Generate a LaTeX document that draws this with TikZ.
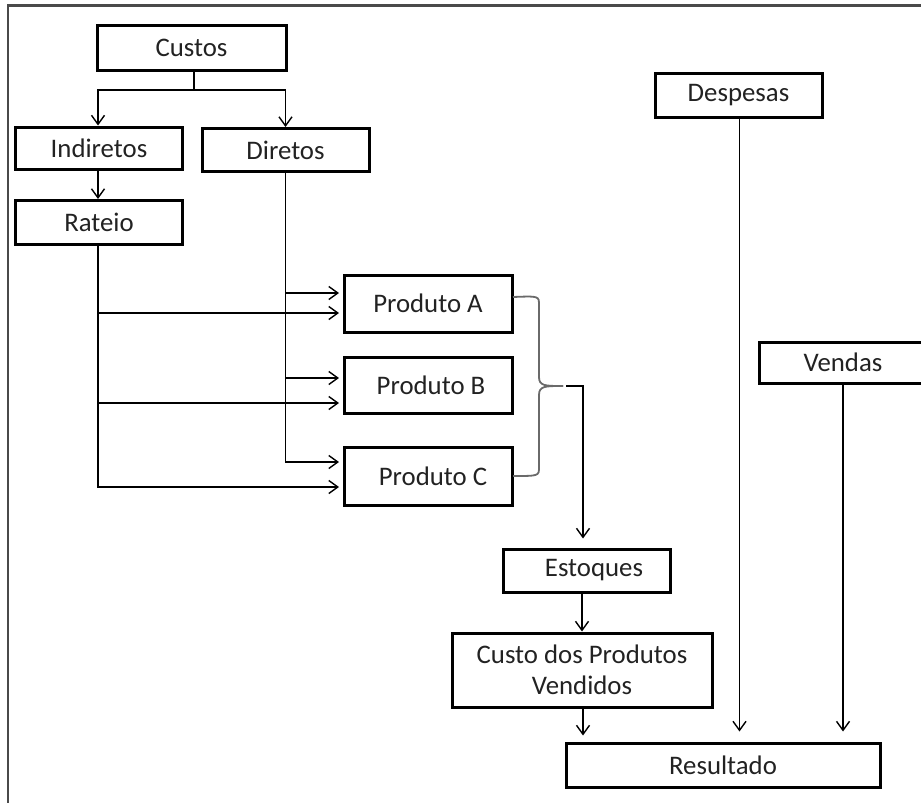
\documentclass[tikz,border=0pt]{standalone}
\usepackage{fontspec}
\setmainfont{Carlito}
\usetikzlibrary{arrows.meta}
\definecolor{txt}{HTML}{222222}
\definecolor{frame}{HTML}{4A4A4A}
\definecolor{bracec}{HTML}{6A6A6A}
\tikzset{
  box/.style={draw=black, line width=3pt, rectangle, inner sep=0pt, text=txt,
    font=\fontsize{26.8}{31}\selectfont, align=center},
  conn/.style={draw=black, line width=1.4pt},
  arr/.style={conn, -{Straight Barb[length=9pt,width=13pt,line width=1.4pt]}},
}
\begin{document}
\begin{tikzpicture}[x=1pt,y=-1pt]
\useasboundingbox (0,0) rectangle (921,803);
\clip (0,0) rectangle (921,803);
% frame (left and top)
\draw[frame, line width=2.2pt] (8,803) -- (8,5.5) -- (925,5.5);

% boxes
\node[box, minimum width=189pt, minimum height=45pt] (custos) at (191.5,47.5) {Custos};
\node[box, minimum width=167pt, minimum height=42pt] (indiretos) at (99,148) {Indiretos};
\node[box, minimum width=167pt, minimum height=43pt] (diretos) at (285.5,150) {Diretos};
\node[box, minimum width=167pt, minimum height=44pt] (rateio) at (99,222.5) {Rateio};
\node[box, minimum width=168pt, minimum height=57pt] (prodA) at (428,303.5) {Produto A};
\node[box, minimum width=168pt, minimum height=56pt] (prodB) at (428,385) {\hspace*{6pt}Produto B};
\node[box, minimum width=168pt, minimum height=58pt] (prodC) at (428,476) {\hspace*{10pt}Produto C};
\node[box, minimum width=167pt, minimum height=43pt] (estoques) at (586.5,570.5) {\hspace*{15pt}Estoques};
\node[box, minimum width=260pt, minimum height=74pt] (cpv) at (582,670) {Custo dos Produtos\\Vendidos};
\node[box, minimum width=314pt, minimum height=44pt] (resultado) at (723,765) {Resultado};
\node[box, minimum width=167pt, minimum height=44pt] (despesas) at (738.5,95) {Despesas};
\node[box, minimum width=168pt, minimum height=41pt] (vendas) at (843,362.5) {Vendas};

% Custos split
\coordinate (split) at (194,90);
\draw[conn] ([xshift=2.5pt]custos.south) -- (split);
\draw[arr] (split) -| ([xshift=-1pt]indiretos.north);
\draw[arr] (split) -| (diretos.north);
\draw[arr] ([xshift=-1pt]indiretos.south) -- ([xshift=-1pt]rateio.north);

% Rateio trunk
\coordinate (rA) at (344,313);
\coordinate (rB) at (344,403);
\coordinate (rC) at (344,487);
\draw[arr, shorten >=5pt] ([xshift=-1pt]rateio.south) |- (rC);
\draw[arr, shorten >=5pt] ([xshift=-1pt]rateio.south |- rA) -- (rA);
\draw[arr, shorten >=5pt] ([xshift=-1pt]rateio.south |- rB) -- (rB);

% Diretos trunk
\coordinate (dA) at (344,293);
\coordinate (dB) at (344,378);
\coordinate (dC) at (344,462);
\draw[arr, shorten >=5pt] (diretos.south) |- (dC);
\draw[arr, shorten >=5pt] (diretos.south |- dA) -- (dA);
\draw[arr, shorten >=5pt] (diretos.south |- dB) -- (dB);

% brace
\coordinate (btip) at (563,386);
\draw[bracec, line width=1.8pt] (513,297) .. controls (539,296) .. (539,305) -- (539,377)
  .. controls (539,386) and (545,386) .. (btip);
\draw[bracec, line width=1.8pt] (btip) .. controls (545,386) and (539,386) .. (539,395) -- (539,467)
  .. controls (539,476) .. (513,476);

% brace to Estoques
\coordinate (bout) at (566,386);
\draw[arr, shorten >=9pt] (bout) -| ([xshift=-3.5pt]estoques.north);
\draw[arr] (cpv.north |- estoques.south) -- (cpv.north);
\draw[arr, shorten >=6pt] ([xshift=1pt]cpv.south) -- ([xshift=1pt]cpv.south |- resultado.north);
\draw[arr, shorten >=10pt] ([xshift=1pt]despesas.south) -- ([xshift=1pt]despesas.south |- resultado.north);
\draw[arr, shorten >=10pt] (vendas.south) -- (vendas.south |- resultado.north);
\end{tikzpicture}
\end{document}
